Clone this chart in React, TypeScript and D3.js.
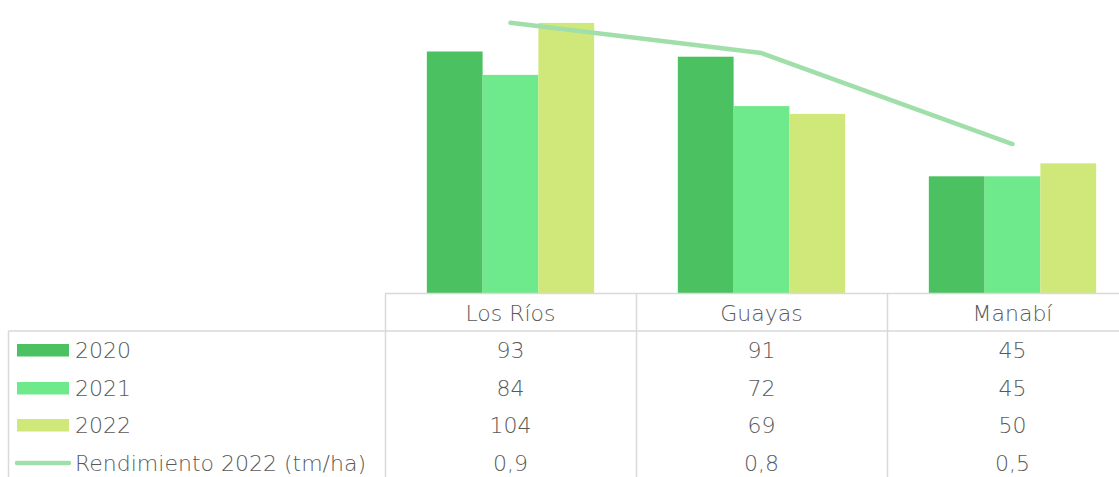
import React from "react";
import * as d3 from "d3";

const categories = ["Los Ríos", "Guayas", "Manabí"];
const seriesNames = ["2020", "2021", "2022"];
const values2020 = [93, 91, 45];
const values2021 = [84, 72, 45];
const values2022 = [104, 69, 50];
const rendimiento = [0.9, 0.8, 0.5];
const rendimientoLabels = ["0,9", "0,8", "0,5"];
const lineName = "Rendimiento 2022 (tm/ha)";

const W = 1119;
const H = 477;
const colors = ["#4cc162", "#6ee98b", "#d0e87a"];
const lineColor = "#a0dfa9";
const gridColor = "#d9d9d9";
const textColor = "#595959";
const font = "'DejaVu Sans', sans-serif";
const fontSize = 22;
const fontWeight = 200;

export default function App() {
  const series = [values2020, values2021, values2022];
  const x = d3.scaleBand<string>().domain(categories).range([385, 1138]).paddingInner(0).paddingOuter(0);
  const xs = d3.scaleBand<string>().domain(seriesNames).range([0, x.bandwidth()]).paddingInner(0).paddingOuter(0.75);
  const y = d3.scaleLinear().domain([0, 110]).range([293.3, 7.3]);
  const y2 = d3.scaleLinear().domain([0, 0.952]).range([295.6, 7]);
  const line = d3
    .line<number>()
    .x((_, i) => (x(categories[i]) as number) + x.bandwidth() / 2)
    .y((d) => y2(d));

  const headerTop = 293.5;
  const headerBottom = 331;
  const rowCenters = [350, 388, 425, 463];
  const rowLabels = [...seriesNames, lineName];
  const rowTexts = [
    values2020.map(String),
    values2021.map(String),
    values2022.map(String),
    rendimientoLabels,
  ];

  const txt = { fontFamily: font, fontSize, fontWeight, fill: textColor } as const;

  return (
    <div style={{ position: "absolute", left: 0, top: 0 }}>
      <svg width={W} height={H} style={{ display: "block", background: "#fff" }}>
        {series.map((vals, si) =>
          vals.map((v, ci) => (
            <rect
              key={`${si}-${ci}`}
              x={(x(categories[ci]) as number) + (xs(seriesNames[si]) as number)}
              y={y(v)}
              width={xs.bandwidth()}
              height={y(0) - y(v)}
              fill={colors[si]}
            />
          ))
        )}
        <path d={line(rendimiento) || ""} fill="none" stroke={lineColor} strokeWidth={4.5} strokeLinecap="round" strokeLinejoin="round" />

        {/* table grid */}
        <line x1={385} x2={W} y1={headerTop} y2={headerTop} stroke={gridColor} strokeWidth={1.5} />
        <line x1={8.5} x2={W} y1={headerBottom} y2={headerBottom} stroke={gridColor} strokeWidth={1.5} />
        <line x1={8.5} x2={8.5} y1={headerBottom} y2={H} stroke={gridColor} strokeWidth={1.5} />
        {categories.map((c) => (
          <line
            key={c}
            x1={(x(c) as number) + 0.5}
            x2={(x(c) as number) + 0.5}
            y1={headerTop}
            y2={H}
            stroke={gridColor}
            strokeWidth={1.5}
          />
        ))}
        {categories.map((c) => (
          <text
            key={c}
            x={(x(c) as number) + x.bandwidth() / 2}
            y={313}
            textAnchor="middle"
            dominantBaseline="central"
            {...txt}
          >
            {c}
          </text>
        ))}
        {rowLabels.map((lbl, ri) => (
          <g key={lbl}>
            {ri < 3 ? (
              <rect x={17} y={rowCenters[ri] - 6} width={52} height={12.5} fill={colors[ri]} />
            ) : (
              <line x1={17} x2={69} y1={rowCenters[ri]} y2={rowCenters[ri]} stroke={lineColor} strokeWidth={4.5} strokeLinecap="round" />
            )}
            <text x={75} y={rowCenters[ri]} dominantBaseline="central" {...txt}>
              {lbl}
            </text>
            {rowTexts[ri].map((t, ci) => (
              <text
                key={ci}
                x={(x(categories[ci]) as number) + x.bandwidth() / 2}
                y={rowCenters[ri]}
                textAnchor="middle"
                dominantBaseline="central"
                {...txt}
              >
                {t}
              </text>
            ))}
          </g>
        ))}
      </svg>
    </div>
  );
}
